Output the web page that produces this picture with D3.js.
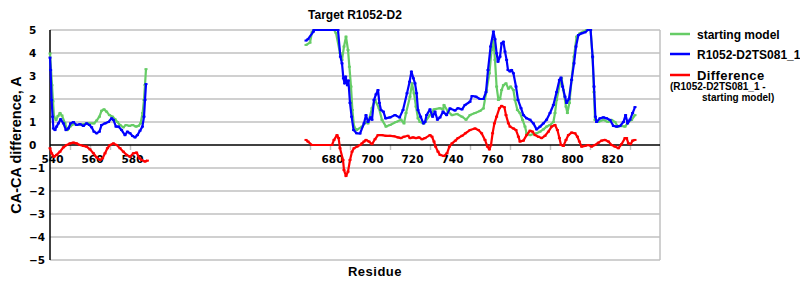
<!DOCTYPE html>
<html>
<head>
<meta charset="utf-8">
<script src="https://cdn.jsdelivr.net/npm/d3@7"></script>
<style>
  body { margin: 0; background: #fff; }
  text { font-family: "Liberation Sans", Arial, sans-serif; font-weight: bold; fill: #000; }
  .tick-lbl { font-family: "DejaVu Sans", Verdana, sans-serif; font-size: 10.5px; }
</style>
</head>
<body>
<div id="chart"></div>
<script>
const width = 800
const height = 300

const title = 'Target R1052-D2'
const xLabels = [540, 560, 580, 680, 700, 720, 740, 760, 780, 800, 820]
const xTicks = [549, 559, 569, 579, 669, 679, 689, 709, 729, 749, 769, 789, 809, 829]
const yTicks = [5, 4, 3, 2, 1, 0, -1, -2, -3, -4, -5]

// starting model
const startRes = [539, 540, 540.5, 541, 542, 543, 544, 545, 546.5, 547.7, 549, 550.7, 553, 556, 558, 561, 562.3, 563.7, 564.8, 566, 567.3, 568.7, 570.3, 571.5, 572.7, 574, 575.7, 577, 578.7, 580.3, 582, 583.2, 584.3, 585.3, 586, 586.5, 587,
  628,
  667, 669, 670, 671, 681, 682, 684, 685, 686, 687, 688, 688.7, 689.5, 690.2, 691, 692.3, 695, 697, 698, 700, 701.5, 703.5, 705, 707, 709, 712, 714.5, 716, 717, 719, 720, 721, 722, 723, 724, 726, 729, 731, 734, 735.5, 736, 738, 740, 742.5, 745, 747, 749, 751.5, 754, 755.7, 757.3, 758.7, 759.8, 760.7, 761.5, 762.3, 763.2, 764, 764.8, 765.7, 767, 768.2, 769.3, 770.7, 771.5, 772.7, 774, 775.3, 776.5, 777.3, 779, 780.7, 782.3, 784, 785.7, 787.3, 789, 790.7, 791.5, 792.3, 794, 794.8, 795.7, 797, 797.7, 798.7, 799.8, 801, 802.3, 804, 805.7, 807.3, 809.3, 810.3, 811, 811.5, 813, 815.7, 818, 819.8, 821.5, 823, 824.7, 826.5, 828.2, 829.8, 831.5]
const startVal = [3.98, 2.6, 1.9, 1.23, 1.09, 1.26, 1.39, 1.28, 0.94, 0.65, 0.8, 0.91, 0.87, 0.91, 0.94, 0.94, 1.06, 1.23, 1.49, 1.55, 1.45, 1.3, 1.23, 1.12, 1.0, 0.87, 0.77, 0.87, 0.83, 0.87, 0.8, 0.83, 0.94, 1.39, 1.96, 2.61, 3.3,
  null,
  4.35, 4.45, 4.9, 5, 5, 4.87, 4.0, 3.7, 4.28, 4.71, 4.13, 3.4, 2.54, 1.52, 0.8, 0.65, 0.8, 1.0, 0.94, 1.6, 1.96, 1.6, 1.09, 0.8, 0.87, 1.0, 1.1, 0.94, 1.39, 2.1, 2.68, 2.25, 1.67, 1.16, 1.0, 0.94, 1.3, 1.55, 1.6, 1.55, 1.74, 1.45, 1.3, 1.35, 1.23, 1.1, 1.3, 1.39, 1.48, 1.59, 2.39, 3.12, 4.13, 4.57, 3.7, 2.54, 1.96, 2.0, 2.39, 2.6, 2.68, 2.45, 2.54, 2.39, 1.96, 1.52, 1.39, 1.09, 0.8, 0.51, 0.43, 0.48, 0.51, 0.58, 0.68, 0.8, 0.87, 1.0, 1.39, 1.96, 2.68, 2.9, 2.39, 1.67, 1.39, 1.83, 2.83, 3.84, 4.71, 4.86, 4.93, 5, 5, 3.8, 2.3, 1.09, 1.0, 1.09, 1.0, 1.09, 1.0, 0.8, 0.83, 0.8, 1.0, 1.09, 1.3]

// R1052-D2TS081_1
const modelRes = [539, 539.3, 539.8, 540.3, 540.7, 541.5, 542.3, 543.2, 544.3, 545.7, 547, 548.2, 549.3, 550.7, 552.3, 554, 555.7, 557.3, 558.7, 559.8, 561, 562.3, 563.7, 564.8, 566.5, 568.2, 569.8, 570.7, 572, 573.2, 574.8, 576.5, 577.7, 579, 580.3, 581.5, 582.7, 584, 585.2, 586, 586.5, 587,
  628,
  667, 668, 670.7, 671, 683, 684.2, 685, 685.7, 686.3, 686.8, 687.7, 688.2, 689, 689.8, 690.8, 692.3, 694, 696, 697, 698, 699.3, 700, 701, 702, 703, 703.7, 704.5, 705.7, 706.8, 709, 711.5, 713.8, 715.5, 717.5, 718.8, 719.7, 720.7, 721.5, 722.3, 723, 724.3, 725.7, 726.5, 727.3, 729, 730.3, 731.5, 732.7, 734, 735.5, 737.3, 739, 741.5, 743, 745, 746.5, 749, 750, 752, 754, 755.7, 757, 758, 759.3, 760.7, 761.5, 762.3, 763, 764, 764.8, 765.7, 766.5, 767.3, 768, 769, 769.8, 770.7, 772, 773, 774.5, 775.7, 777.3, 779, 780.7, 782.3, 784, 785.7, 787.3, 789, 790.7, 792.3, 793.7, 794.5, 795.3, 796.5, 797.3, 798.5, 799.8, 801, 802, 803.2, 805, 806.5, 808, 809.3, 810.3, 811, 811.7, 812.3, 814, 815.7, 817.3, 819, 820.7, 822.3, 824, 825.7, 826.8, 827.8, 829, 830.3, 831.5]
const modelVal = [3.8, 3.26, 1.96, 1.23, 0.72, 0.65, 0.8, 0.94, 1.12, 0.94, 0.65, 0.72, 0.94, 1.0, 0.87, 0.91, 0.83, 0.94, 0.87, 0.77, 0.58, 0.51, 0.58, 0.87, 0.94, 1.0, 1.16, 1.09, 0.8, 0.8, 0.65, 0.43, 0.58, 0.51, 0.39, 0.33, 0.43, 0.62, 0.8, 1.23, 1.96, 2.65,
  null,
  4.54, 4.6, 4.93, 5, 5, 3.84, 3.55, 2.9, 2.68, 2.97, 2.6, 2.8, 1.83, 1.23, 0.65, 0.51, 0.5, 0.94, 1.3, 1.0, 1.2, 1.1, 1.96, 2.2, 2.39, 1.83, 1.52, 1.45, 1.16, 1.2, 1.3, 1.2, 1.52, 2.25, 2.75, 3.19, 2.9, 2.68, 2.25, 1.52, 1.23, 0.94, 1.0, 1.3, 1.55, 1.23, 1.45, 1.1, 1.2, 1.45, 1.3, 1.59, 1.5, 1.6, 1.55, 1.74, 1.88, 2.13, 2.1, 2.0, 2.0, 2.3, 3.26, 4.28, 4.93, 4.6, 3.99, 3.62, 3.84, 4.42, 4.49, 4.06, 3.7, 3.26, 3.2, 3.26, 3.12, 2.54, 1.96, 1.6, 1.3, 1.16, 1.1, 0.94, 0.68, 0.8, 0.94, 1.1, 1.39, 1.74, 2.3, 2.83, 2.93, 2.54, 2.1, 1.83, 2.0, 2.83, 3.55, 4.28, 4.78, 4.86, 4.9, 5, 5, 3.84, 2.54, 1.23, 1.0, 1.16, 1.2, 1.16, 1.09, 0.83, 0.8, 0.83, 1.0, 1.3, 0.94, 1.1, 1.39, 1.65]

// Difference (R1052-D2TS081_1 - starting model)
const diffRes = [539, 539.8, 541, 542.3, 544, 545.7, 547.3, 549, 550.7, 552.3, 554, 555.7, 557.3, 559, 560.7, 562.3, 564, 565.3, 566.5, 567.7, 569, 570.7, 572.3, 574, 575.7, 577.3, 579, 580.7, 582.3, 583.7, 584.8, 586.5, 587.7,
  628,
  667, 668, 670, 680, 681, 682.5, 683.3, 684, 685.5, 686, 687, 688, 689, 690, 691, 692.5, 694, 695, 696, 697, 698.5, 700, 701.5, 703, 705, 707, 709, 711, 713, 714.5, 716, 718, 719, 720.5, 722, 723.5, 725, 726.5, 729, 730, 731, 731.8, 733, 734, 736, 737.5, 738.7, 740, 741.7, 743, 745, 746.7, 749, 751.5, 753.2, 754.8, 756.5, 757.7, 758.7, 759.5, 760.3, 761.2, 762.3, 763.7, 764.8, 766.2, 767, 768.2, 769, 770.7, 772, 773.2, 774, 775.7, 777.3, 779, 780.3, 781.5, 783.2, 784.8, 786.5, 788.2, 789.8, 791.5, 792.7, 793.7, 794.5, 795.7, 797, 798.2, 799.8, 801.5, 802.7, 803.7, 804.8, 806.5, 808.2, 809.8, 811.5, 813.2, 814.8, 816.5, 818.2, 819.8, 821.5, 823.2, 824.8, 826.5, 827.3, 828.2, 829.3, 830.3, 831.5]
const diffVal = [-0.14, -0.36, -0.51, -0.43, -0.29, -0.1, 0, 0.07, 0.1, 0.07, 0, -0.04, -0.07, -0.19, -0.36, -0.54, -0.65, -0.58, -0.36, -0.14, 0, 0.07, 0, -0.14, -0.29, -0.43, -0.51, -0.36, -0.33, -0.58, -0.65, -0.72, -0.68,
  null,
  0.22, 0.15, 0, 0, 0.22, 0.43, 0.3, -0.14, -0.65, -1.09, -1.35, -1.16, -0.65, -0.29, -0.14, -0.07, 0, 0.07, 0.15, 0.22, 0.15, 0.04, 0.25, 0.43, 0.43, 0.4, 0.4, 0.38, 0.33, 0.3, 0.36, 0.4, 0.3, 0.33, 0.3, 0.33, 0.25, 0.3, 0.43, 0.36, 0.15, -0.07, -0.29, -0.43, -0.48, -0.36, -0.07, 0.07, 0.19, 0.3, 0.4, 0.51, 0.65, 0.72, 0.65, 0.51, 0.22, -0.07, -0.19, 0, 0.51, 0.94, 1.23, 1.6, 1.7, 1.64, 1.3, 0.94, 0.8, 0.72, 0.65, 0.36, 0.15, 0.19, 0.43, 0.62, 0.58, 0.43, 0.36, 0.3, 0.4, 0.58, 0.8, 0.87, 0.65, 0.3, 0, -0.04, 0.22, 0.43, 0.54, 0.51, 0.36, 0.15, -0.07, -0.04, 0, -0.07, 0, 0.1, 0.19, 0.22, 0.15, 0, -0.07, -0.14, 0.04, 0.3, 0.3, 0.07, 0.04, 0.19, 0.22]

const series = [
  { name: 'starting model', res: startRes, val: startVal, color: '#66cc66' },
  { name: 'R1052-D2TS081_1', res: modelRes, val: modelVal, color: '#0000ff' },
  { name: 'Difference', res: diffRes, val: diffVal, color: '#ff0000' }
]

let svg = d3.select('#chart').append('svg')
  .attr('width', width)
  .attr('height', height)

let x = d3.scaleLinear()
  .domain([539, 844])
  .range([50, 660])

let y = d3.scaleLinear()
  .domain([-5, 5])
  .range([260, 30])

// grid
svg.append('g')
  .selectAll('line')
  .data(yTicks.filter(d => d !== 0))
  .enter()
  .append('line')
  .attr('x1', x.range()[0])
  .attr('x2', x.range()[1])
  .attr('y1', d => y(d))
  .attr('y2', d => y(d))
  .attr('stroke', '#c0c0c0')
  .attr('stroke-width', 1.5)

svg.append('line')
  .attr('x1', x.range()[1]).attr('x2', x.range()[1])
  .attr('y1', y(5)).attr('y2', y(-5))
  .attr('stroke', '#c0c0c0')
  .attr('stroke-width', 1.5)

// x ticks (gray) on the zero line
let xTickAxis = svg.append('g')
  .attr('transform', `translate(0,${y(0)})`)
  .call(d3.axisBottom(x).tickValues(xTicks).tickSize(5).tickFormat(''))
xTickAxis.select('.domain').remove()
xTickAxis.selectAll('line').attr('stroke', '#c0c0c0').attr('stroke-width', 1.5)

// x labels
let xLabAxis = svg.append('g')
  .attr('transform', `translate(0,${y(0)})`)
  .call(d3.axisBottom(x).tickValues(xLabels).tickSize(0).tickFormat(d3.format('d')))
xLabAxis.select('.domain').remove()
xLabAxis.selectAll('text')
  .attr('class', 'tick-lbl')
  .attr('y', 18)
  .attr('dy', null)
  .attr('font-family', null)
  .attr('font-size', null)
  .attr('fill', '#000')

// y labels, left aligned like the original
let yAxis = svg.append('g')
  .attr('transform', `translate(${x.range()[0]},0)`)
  .call(d3.axisLeft(y).tickValues(yTicks).tickSize(0).tickFormat(d3.format('d')))
yAxis.select('.domain').remove()
yAxis.selectAll('text')
  .attr('class', 'tick-lbl')
  .attr('text-anchor', 'start')
  .attr('x', -21)
  .attr('dy', '0.36em')
  .attr('font-family', null)
  .attr('font-size', null)
  .attr('fill', '#000')

// axis lines
svg.append('line')
  .attr('x1', x.range()[0]).attr('x2', x.range()[1])
  .attr('y1', y(0)).attr('y2', y(0))
  .attr('stroke', '#000')
  .attr('stroke-width', 1.5)

svg.append('line')
  .attr('x1', x.range()[0]).attr('x2', x.range()[0])
  .attr('y1', y(5)).attr('y2', y(-5))
  .attr('stroke', '#000')
  .attr('stroke-width', 1.5)

// series
let line = d3.line()
  .defined(d => d.v != null)
  .x(d => x(d.r))
  .y(d => y(d.v))

let plot = svg.append('g')

series.forEach(s => {
  let pts = s.res.map((r, i) => ({ r: r, v: s.val[i] }))
  plot.append('path')
    .datum(pts)
    .attr('fill', 'none')
    .attr('stroke', s.color)
    .attr('stroke-width', 2.2)
    .attr('stroke-linejoin', 'round')
    .attr('d', line)

  plot.append('g')
    .selectAll('rect')
    .data(pts.filter(d => d.v != null))
    .enter()
    .append('rect')
    .attr('x', d => x(d.r) - 1.5)
    .attr('y', d => y(d.v) - 1)
    .attr('width', 3)
    .attr('height', 2)
    .attr('fill', s.color)
})

// titles
svg.append('text')
  .attr('x', 355)
  .attr('y', 19)
  .attr('text-anchor', 'middle')
  .style('font-size', '12px')
  .text(title)

svg.append('text')
  .attr('x', 375)
  .attr('y', 276)
  .attr('text-anchor', 'middle')
  .style('font-size', '13px')
  .style('letter-spacing', '0.5px')
  .text('Residue')

svg.append('text')
  .attr('transform', 'translate(21,145) rotate(-90)')
  .attr('text-anchor', 'middle')
  .style('font-size', '14.5px')
  .text('CA-CA difference, A')

// legend
let legend = svg.append('g')
let legendY = [34, 54, 75]
series.forEach((s, i) => {
  legend.append('line')
    .attr('x1', 670).attr('x2', 690)
    .attr('y1', legendY[i]).attr('y2', legendY[i])
    .attr('stroke', s.color)
    .attr('stroke-width', 2.5)
  legend.append('rect')
    .attr('x', 678.5).attr('y', legendY[i] - 1)
    .attr('width', 3).attr('height', 2)
    .attr('fill', s.color)
})
legend.append('text').attr('x', 697).attr('y', 38.5).style('font-size', '12px').text(series[0].name)
legend.append('text').attr('x', 697).attr('y', 59).style('font-size', '12px').text(series[1].name)
legend.append('text').attr('x', 697).attr('y', 79.5).style('font-size', '13px').style('letter-spacing', '0.4px').text(series[2].name)
legend.append('text').attr('x', 670).attr('y', 90).style('font-size', '10px').text('(R1052-D2TS081_1 -')
legend.append('text').attr('x', 702).attr('y', 100.5).style('font-size', '10px').text('starting model)')
</script>
</body>
</html>
